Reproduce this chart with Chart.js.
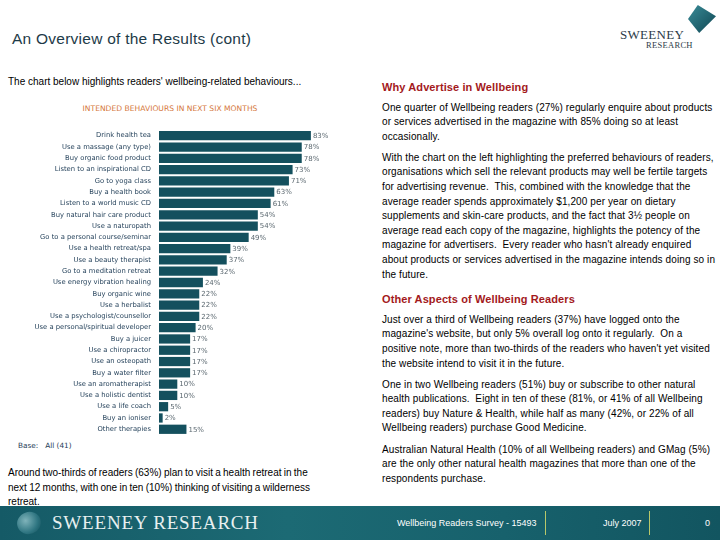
<!DOCTYPE html>
<html>
<head>
<meta charset="utf-8">
<script src="https://cdn.jsdelivr.net/npm/chart.js@4"></script>
<style>
  body { margin: 0; width: 720px; height: 540px; position: relative; overflow: hidden; background: #fff; font-family: "Liberation Sans", Arial, sans-serif; }
  .abs { position: absolute; }
  #title { left: 12px; top: 30px; font-size: 15.5px; letter-spacing: 0.25px; color: #1d3a48; }
  #intro { left: 8px; top: 76px; font-size: 10px; color: #000; }
  #chartTitle { left: 30px; width: 280px; top: 104px; text-align: center; font-family: "DejaVu Sans", sans-serif; font-size: 7.6px; color: #d5773a; }
  #chartBox { left: 30px; top: 126px; width: 312px; height: 313px; }
  #base { left: 18px; top: 441px; font-family: "DejaVu Sans", sans-serif; font-size: 7.3px; color: #1d3b55; }
  #note { left: 8px; top: 466px; width: 360px; font-size: 10px; line-height: 14.5px; color: #000; white-space: nowrap; word-spacing: -0.5px; }
  #right { left: 382px; top: 80px; width: 336px; font-size: 10px; letter-spacing: 0.1px; line-height: 14.6px; color: #000; }
  #right h3 { margin: 0 0 6px 0; font-size: 11px; letter-spacing: 0.1px; color: #a3191c; font-weight: bold; }
  #right p { margin: 0 0 6.5px 0; }
  #footer { left: 0; top: 506px; width: 720px; height: 34px; background: linear-gradient(90deg, #155a66 0%, #1c6a74 40%, #17616c 70%, #125560 100%); }
  #fLogo { left: 52px; top: 6px; font-family: "Liberation Serif", serif; font-size: 19px; color: #e8f0f0; letter-spacing: 0.8px; }
  #sphere { left: 17px; top: 6px; width: 24px; height: 22px; border-radius: 50%; background: radial-gradient(circle at 40% 35%, #7fb3ba, #2d7480 60%, #0f4a55); transform: rotate(-20deg); }
  .ft { top: 12px; font-size: 9px; color: #fff; }
  .sep { top: 5px; width: 1px; height: 24px; background: #b8c86a; }
  #logoShape { left: 688px; top: 5px; width: 28px; height: 28px; background: linear-gradient(135deg, #3a8c98, #0f4652); clip-path: polygon(35% 0, 100% 40%, 40% 100%, 0 50%); }
  #logo1 { left: 620px; top: 27px; font-family: "Liberation Serif", serif; font-size: 13px; color: #2d3b48; letter-spacing: 0.3px; }
  #logo2 { left: 646px; top: 40px; font-family: "Liberation Serif", serif; font-size: 8.5px; color: #2d3b48; letter-spacing: 0.3px; }
</style>
</head>
<body>
<div class="abs" id="logoShape"></div>
<div class="abs" id="logo1">SWEENEY</div>
<div class="abs" id="logo2">RESEARCH</div>
<div class="abs" id="title">An Overview of the Results (cont)</div>
<div class="abs" id="intro">The chart below highlights readers' wellbeing-related behaviours...</div>
<div class="abs" id="chartTitle">INTENDED BEHAVIOURS IN NEXT SIX MONTHS</div>
<div class="abs" id="chartBox"><canvas id="behavioursChart"></canvas></div>
<div class="abs" id="base">Base:&nbsp;&nbsp; All (41)</div>
<div class="abs" id="note">Around two-thirds of readers (63%) plan to visit a health retreat in the<br>next 12 months, with one in ten (10%) thinking of visiting a wilderness<br>retreat.</div>
<div class="abs" id="right">
  <h3>Why Advertise in Wellbeing</h3>
  <p>One quarter of Wellbeing readers (27%) regularly enquire about products or services advertised in the magazine with 85% doing so at least occasionally.</p>
  <p>With the chart on the left highlighting the preferred behaviours of readers, organisations which sell the relevant products may well be fertile targets for advertising revenue.&nbsp; This, combined with the knowledge that the average reader spends approximately $1,200 per year on dietary supplements and skin-care products, and the fact that 3½ people on average read each copy of the magazine, highlights the potency of the magazine for advertisers.&nbsp; Every reader who hasn't already enquired about products or services advertised in the magazine intends doing so in the future.</p>
  <h3 style="margin-top:10px">Other Aspects of Wellbeing Readers</h3>
  <p>Just over a third of Wellbeing readers (37%) have logged onto the magazine's website, but only 5% overall log onto it regularly.&nbsp; On a positive note, more than two-thirds of the readers who haven't yet visited the website intend to visit it in the future.</p>
  <p>One in two Wellbeing readers (51%) buy or subscribe to other natural health publications.&nbsp; Eight in ten of these (81%, or 41% of all Wellbeing readers) buy Nature &amp; Health, while half as many (42%, or 22% of all Wellbeing readers) purchase Good Medicine.</p>
  <p>Australian Natural Health (10% of all Wellbeing readers) and GMag (5%) are the only other natural health magazines that more than one of the respondents purchase.</p>
</div>
<div class="abs" id="footer">
  <div class="abs" id="sphere"></div>
  <div class="abs" id="fLogo">SWEENEY RESEARCH</div>
  <div class="abs ft" style="left:397px">Wellbeing Readers Survey - 15493</div>
  <div class="abs sep" style="left:545px"></div>
  <div class="abs ft" style="left:603px">July 2007</div>
  <div class="abs sep" style="left:649px"></div>
  <div class="abs ft" style="left:705px">0</div>
</div>
<script>
// Behaviours and % of readers intending each one
const behaviours = [
  'Drink health tea', 'Use a massage (any type)', 'Buy organic food product',
  'Listen to an inspirational CD', 'Go to yoga class', 'Buy a health book',
  'Listen to a world music CD', 'Buy natural hair care product', 'Use a naturopath',
  'Go to a personal course/seminar', 'Use a health retreat/spa', 'Use a beauty therapist',
  'Go to a meditation retreat', 'Use energy vibration healing', 'Buy organic wine',
  'Use a herbalist', 'Use a psychologist/counsellor', 'Use a personal/spiritual developer',
  'Buy a juicer', 'Use a chiropractor', 'Use an osteopath', 'Buy a water filter',
  'Use an aromatherapist', 'Use a holistic dentist', 'Use a life coach',
  'Buy an ioniser', 'Other therapies'
];
const percentages = [83, 78, 78, 73, 71, 63, 61, 54, 54, 49, 39, 37, 32, 24, 22, 22, 22, 20, 17, 17, 17, 17, 10, 10, 5, 2, 15];

// write the % next to each bar
const valueLabels = {
  id: 'valueLabels',
  afterDatasetsDraw(chart) {
    const ctx = chart.ctx;
    ctx.save();
    ctx.font = '7px "DejaVu Sans", sans-serif';
    ctx.fillStyle = '#5b6870';
    ctx.textBaseline = 'middle';
    chart.getDatasetMeta(0).data.forEach(function (bar, i) {
      ctx.fillText(percentages[i] + '%', bar.x + 2, bar.y + 0.5);
    });
    ctx.restore();
  }
};

new Chart(document.getElementById('behavioursChart'), {
  type: 'bar',
  data: {
    labels: behaviours,
    datasets: [{
      data: percentages,
      backgroundColor: '#14505e',
      borderWidth: 0,
      barPercentage: 0.82,
      categoryPercentage: 1
    }]
  },
  options: {
    indexAxis: 'y',
    responsive: true,
    maintainAspectRatio: false,
    animation: false,
    layout: { padding: 0 },
    plugins: { legend: { display: false }, tooltip: { enabled: false } },
    scales: {
      x: { display: false, min: 0, max: 100 },
      y: {
        grid: { display: false },
        border: { display: false },
        ticks: { autoSkip: false, padding: 0, color: '#1d3b55', font: { family: 'DejaVu Sans', size: 6.8 } },
        afterFit: function (scale) { scale.width = 129; }
      }
    }
  },
  plugins: [valueLabels]
});
</script>
</body>
</html>
